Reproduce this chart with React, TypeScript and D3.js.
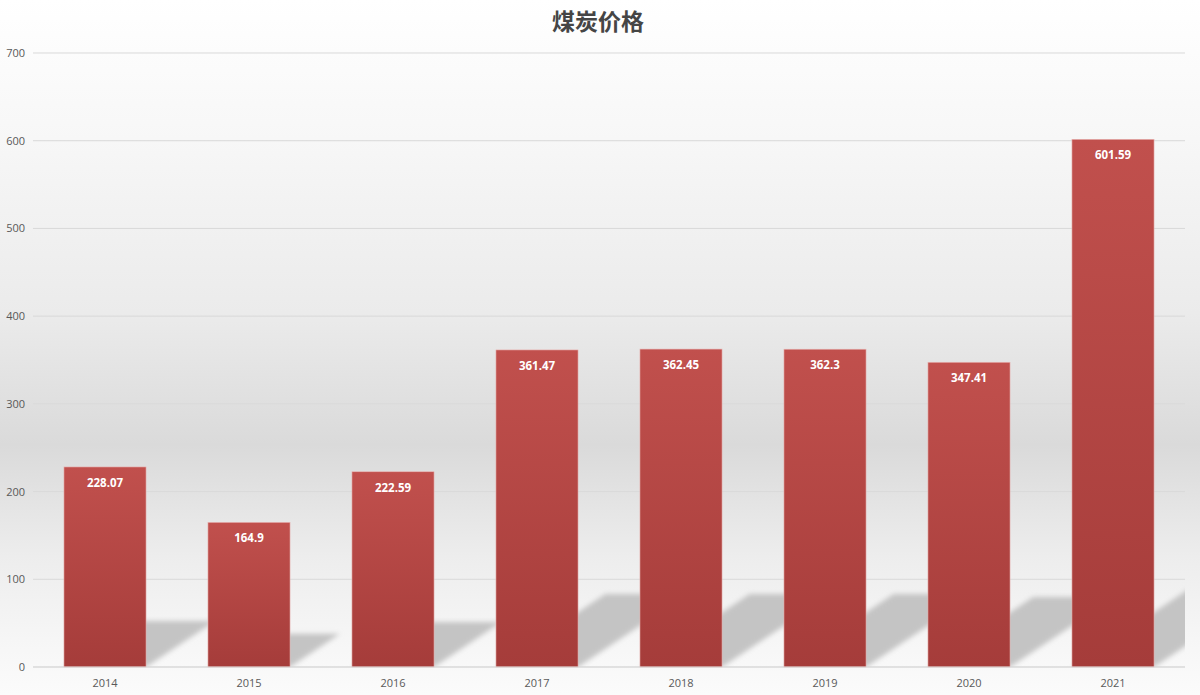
import React from 'react';
import * as d3 from 'd3';

// chart data
const years = ['2014', '2015', '2016', '2017', '2018', '2019', '2020', '2021'];
const prices = [228.07, 164.9, 222.59, 361.47, 362.45, 362.3, 347.41, 601.59];
const yTicks = [0, 100, 200, 300, 400, 500, 600, 700];
const title = '煤炭价格';

const W = 1200;
const H = 695;
const margin = { top: 53, right: 15, bottom: 28, left: 33 };

const App: React.FC = () => {
  const x = d3
    .scaleBand<string>()
    .domain(years)
    .range([margin.left, W - margin.right])
    .paddingInner(0.43)
    .paddingOuter(0.215);
  const y = d3.scaleLinear().domain([0, 700]).range([H - margin.bottom, margin.top]);
  const y0 = y(0);
  const bw = x.bandwidth();

  return (
    <svg
      width={W}
      height={H}
      style={{ position: 'absolute', left: 0, top: 0, display: 'block' }}
      fontFamily="'Open Sans', 'Noto Sans', sans-serif"
    >
      <defs>
        <linearGradient id="bg" x1="0" y1="0" x2="0" y2="1">
          <stop offset="0" stopColor="#ffffff" />
          <stop offset="0.2" stopColor="#f7f7f7" />
          <stop offset="0.45" stopColor="#ebebeb" />
          <stop offset="0.64" stopColor="#dadada" />
          <stop offset="0.8" stopColor="#ededed" />
          <stop offset="0.92" stopColor="#f6f6f6" />
          <stop offset="1" stopColor="#fbfbfb" />
        </linearGradient>
        <linearGradient id="bar" x1="0" y1="0" x2="0" y2="1">
          <stop offset="0" stopColor="#c1504d" />
          <stop offset="1" stopColor="#a53c3a" />
        </linearGradient>
        <filter id="blur" x="-20%" y="-20%" width="140%" height="140%">
          <feGaussianBlur stdDeviation="2.5" />
        </filter>
        <clipPath id="plot">
          <rect x={margin.left} y={margin.top} width={W - margin.left - margin.right} height={y0 - margin.top} />
        </clipPath>
      </defs>

      <rect x={0} y={0} width={W} height={H} fill="url(#bg)" />

      <text x={W / 2 - 2} y={30} textAnchor="middle" fontSize={23} fontWeight={700}
        fill="#454545" fontFamily="'Noto Sans CJK SC', sans-serif">
        {title}
      </text>

      {yTicks.map(t => (
        <g key={t}>
          <line x1={margin.left} x2={W - margin.right} y1={y(t)} y2={y(t)} stroke="#d9d9d9" strokeWidth={1} />
          <text x={25} y={y(t) + 4} textAnchor="end" fontSize={11} fill="#595959">
            {t}
          </text>
        </g>
      ))}

      <g clipPath="url(#plot)">
        {prices.map((v, i) => {
          const L = x(years[i])!;
          const R = L + bw;
          const h = 0.23 * (y0 - y(v));
          const s = 1.5 * h;
          const pts = [
            [L, y0],
            [R, y0],
            [R + s, y0 - h],
            [L + s, y0 - h],
          ];
          return (
            <polygon key={years[i]} points={pts.map(p => p.join(',')).join(' ')}
              fill="#c4c4c4" filter="url(#blur)" />
          );
        })}
      </g>

      {prices.map((v, i) => (
        <g key={years[i]}>
          <rect x={x(years[i])} y={y(v)} width={bw} height={y0 - y(v)} fill="url(#bar)"
            stroke="#e8b4b2" strokeWidth={0.6} />
          <text x={x(years[i])! + bw / 2} y={y(v) + 20} textAnchor="middle" fontSize={11.5}
            fontWeight={700} fill="#ffffff">
            {v}
          </text>
        </g>
      ))}

      <line x1={margin.left} x2={W - margin.right} y1={y0} y2={y0} stroke="#d9d9d9" strokeWidth={1} />

      {years.map(yr => (
        <text key={yr} x={x(yr)! + bw / 2} y={687} textAnchor="middle" fontSize={11} fill="#595959">
          {yr}
        </text>
      ))}
    </svg>
  );
};

export default App;
